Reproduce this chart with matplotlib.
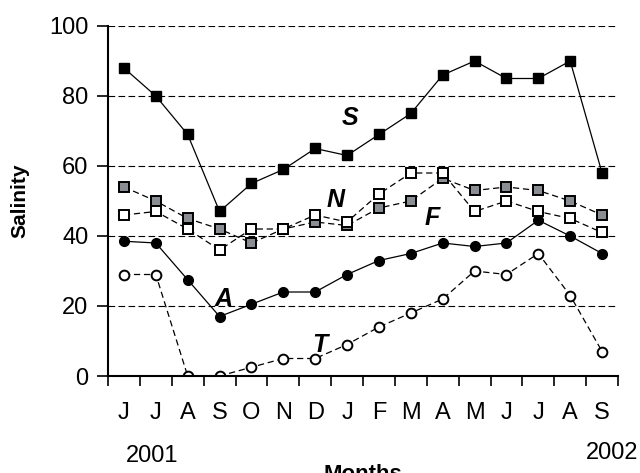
import matplotlib.pyplot as plt

plt.rcParams['font.family'] = ['Liberation Sans', 'DejaVu Sans']

# miesiace czerwiec 2001 - wrzesien 2002
miesiace = ["J", "J", "A", "S", "O", "N", "D", "J", "F", "M", "A", "M", "J", "J", "A", "S"]

seria_S = [88, 80, 69, 47, 55, 59, 65, 63, 69, 75, 86, 90, 85, 85, 90, 58]
seria_F = [54, 50, 45, 42, 38, 42, 44, 43, 48, 50, 56.5, 53, 54, 53, 50, 46]
seria_N = [46, 47, 42, 36, 42, 42, 46, 44, 52, 58, 58, 47, 50, 47, 45, 41]
seria_A = [38.5, 38, 27.5, 17, 20.5, 24, 24, 29, 33, 35, 38, 37, 38, 44.5, 40, 35]
seria_T = [29, 29, 0, 0, 2.5, 5, 5, 9, 14, 18, 22, 30, 29, 35, 23, 7]

x = list(range(len(miesiace)))

fig = plt.figure(figsize=(6.4, 4.73), dpi=100)
ax = fig.add_axes([108 / 640, 1 - 376 / 473, 510 / 640, 350 / 473])

kreski = (0, (5, 3))
ax.plot(x, seria_F, ls=kreski, color="black", lw=0.9, marker="s", ms=7.5,
        mfc="#8a8d91", mec="black", mew=1.4)
ax.plot(x, seria_N, ls=kreski, color="black", lw=0.9, marker="s", ms=7.5,
        mfc="white", mec="black", mew=1.4)
ax.plot(x, seria_S, ls="-", color="black", lw=0.9, marker="s", ms=7.5,
        mfc="black", mec="black")
ax.plot(x, seria_T, ls=kreski, color="black", lw=0.9, marker="o", ms=7,
        mfc="white", mec="black", mew=1.4)
ax.plot(x, seria_A, ls="-", color="black", lw=0.9, marker="o", ms=7,
        mfc="black", mec="black")

# etykiety serii
etykiety = {"S": (7.09, 73.7), "N": (6.65, 50.4), "F": (9.66, 45.2),
            "A": (3.11, 22.1), "T": (6.15, 8.9)}
for txt, (ex, ey) in etykiety.items():
    ax.text(ex, ey, txt, fontsize=18, fontweight="bold", fontstyle="italic",
            ha="center", va="center")

ax.set_xlim(-0.5, 15.5)
ax.set_ylim(0, 100)
ax.set_xticks([i - 0.5 for i in range(17)])
ax.set_xticklabels([])
ax.set_xticks(x, minor=True)
ax.set_xticklabels(miesiace, minor=True)
ax.tick_params(axis="x", which="major", direction="out", length=7, width=1.2)
ax.tick_params(axis="x", which="minor", length=0, pad=19, labelsize=17)
ax.set_yticks([0, 20, 40, 60, 80, 100])
ax.tick_params(axis="y", direction="out", length=8, width=1.2, labelsize=17, pad=6)

for g in [20, 40, 60, 80, 100]:
    ax.axhline(g, color="black", lw=0.8, ls=(0, (6, 3)), zorder=0)

ax.spines["top"].set_visible(False)
ax.spines["right"].set_visible(False)
ax.spines["left"].set_linewidth(1.5)
ax.spines["bottom"].set_linewidth(1.5)

ax.set_ylabel("Salinity", fontsize=15, fontweight="bold", labelpad=14)

fig.text(152 / 640, 1 - 456 / 473, "2001", fontsize=17, ha="center", va="center")
fig.text(612 / 640, 1 - 453 / 473, "2002", fontsize=17, ha="center", va="center")
fig.text(363 / 640, 1 - 474 / 473, "Months", fontsize=16, fontweight="bold",
         ha="center", va="center")

plt.savefig("out.png", dpi=100)
